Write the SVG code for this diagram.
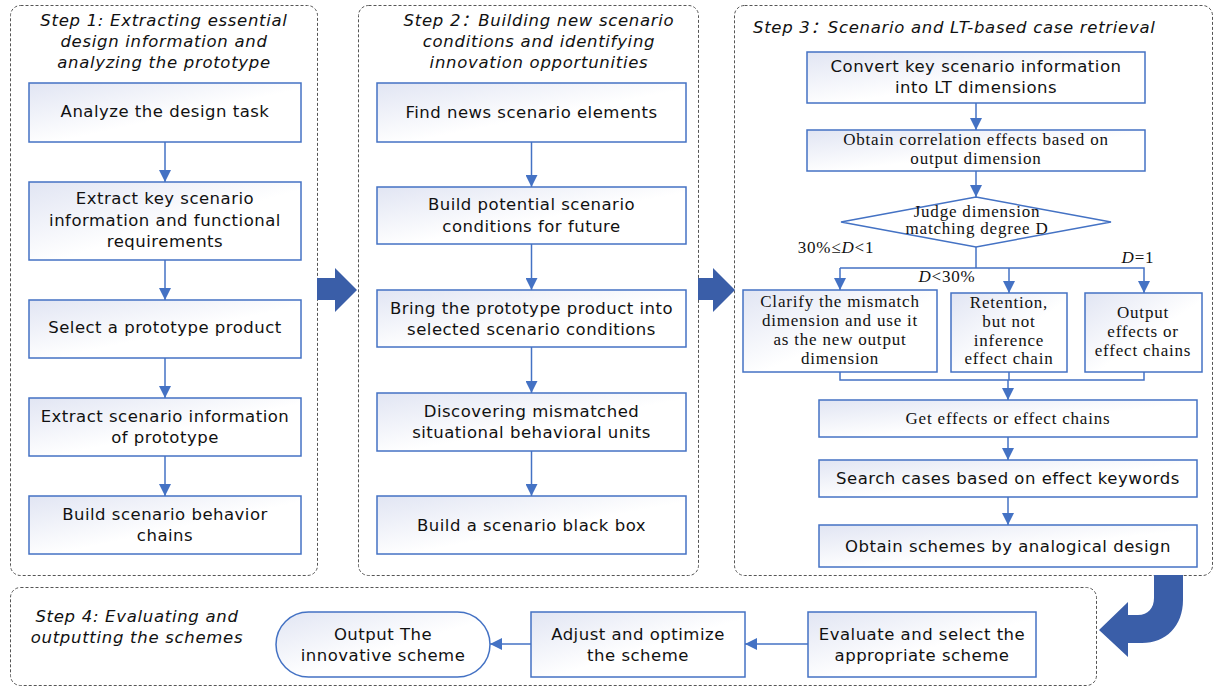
<svg xmlns="http://www.w3.org/2000/svg" width="1214" height="686" viewBox="0 0 1214 686">
<defs>
<linearGradient id="bg" x1="0" y1="0" x2="1" y2="1">
<stop offset="0" stop-color="#e1e5f3"/>
<stop offset="0.55" stop-color="#ffffff"/>
<stop offset="1" stop-color="#ffffff"/>
</linearGradient>
<marker id="ah" viewBox="0 0 12 12" markerWidth="12" markerHeight="12" refX="12" refY="6" orient="auto" markerUnits="userSpaceOnUse">
<path d="M0,0 L12,6 L0,12 z" fill="#4472c4"/>
</marker>
<style>
.panel{fill:#fff;stroke:#555;stroke-width:1;stroke-dasharray:3 2}
.box{fill:url(#bg);stroke:#4472c4;stroke-width:1.5}
.t{font-family:"DejaVu Sans","Verdana",sans-serif;font-size:16.5px;fill:#111;text-anchor:middle;letter-spacing:0.5px}
.s{font-family:"Liberation Serif","Times New Roman",serif;font-size:17px;fill:#111;text-anchor:middle;letter-spacing:0.8px}
.ti{font-family:"DejaVu Sans","Noto Sans CJK SC",sans-serif;font-size:16.5px;font-style:italic;fill:#111;text-anchor:middle;letter-spacing:0.7px}
.c{fill:none;stroke:#4472c4;stroke-width:1.5}
.big{fill:#3a5ea8}
</style>
</defs>

<g id="panels">
<rect id="step1" class="panel" x="10.5" y="5.5" width="307" height="570" rx="10"/>
<rect id="step2" class="panel" x="358.5" y="5.5" width="340" height="570" rx="10"/>
<rect id="step3" class="panel" x="734.5" y="5.5" width="478" height="570" rx="10"/>
<rect id="step4" class="panel" x="10.5" y="587.5" width="1086" height="98" rx="10"/>
</g>

<g id="titles">
<text class="ti" x="164" y="26">Step 1: Extracting essential</text>
<text class="ti" x="164" y="47">design information and</text>
<text class="ti" x="164" y="68">analyzing the prototype</text>
<text class="ti" x="539" y="26">Step 2：Building new scenario</text>
<text class="ti" x="539" y="47">conditions and identifying</text>
<text class="ti" x="539" y="68">innovation opportunities</text>
<text class="ti" x="753" y="33" style="text-anchor:start">Step 3：Scenario and LT-based case retrieval</text>
<text class="ti" x="137" y="622">Step 4: Evaluating and</text>
<text class="ti" x="137" y="643">outputting the schemes</text>
</g>

<g id="big-arrows">
<path class="big" d="M317,278 L335,278 L335,268 L357,290 L335,312 L335,300 L317,300 z"/>
<path class="big" d="M698,278 L713,278 L713,268 L735,290 L713,312 L713,300 L698,300 z"/>
<path class="big" d="M1154,575 L1183,575 L1183,600 C1183,626 1166,643 1142,643 L1128,643 L1128,657 L1099,630 L1128,602 L1128,615 L1138,615 C1148,615 1154,608 1154,598 z"/>
</g>

<g id="connectors">
<line class="c" x1="165" y1="142" x2="165" y2="182" marker-end="url(#ah)"/>
<line class="c" x1="165" y1="260" x2="165" y2="300" marker-end="url(#ah)"/>
<line class="c" x1="165" y1="358" x2="165" y2="398" marker-end="url(#ah)"/>
<line class="c" x1="165" y1="456" x2="165" y2="496" marker-end="url(#ah)"/>

<line class="c" x1="531.5" y1="142" x2="531.5" y2="187" marker-end="url(#ah)"/>
<line class="c" x1="531.5" y1="244" x2="531.5" y2="290" marker-end="url(#ah)"/>
<line class="c" x1="531.5" y1="347" x2="531.5" y2="393" marker-end="url(#ah)"/>
<line class="c" x1="531.5" y1="451" x2="531.5" y2="496" marker-end="url(#ah)"/>

<line class="c" x1="976" y1="103" x2="976" y2="130" marker-end="url(#ah)"/>
<line class="c" x1="976" y1="171" x2="976" y2="197" marker-end="url(#ah)"/>
<polyline class="c" points="976,247 976,268"/>
<polyline class="c" points="840,268 1144,268 1144,293" marker-end="url(#ah)"/>
<line class="c" x1="840" y1="268" x2="840" y2="290" marker-end="url(#ah)"/>
<line class="c" x1="1009" y1="268" x2="1009" y2="293" marker-end="url(#ah)"/>
<polyline class="c" points="840,372 840,380 1144,380 1144,372"/>
<line class="c" x1="1009" y1="372" x2="1009" y2="380"/>
<line class="c" x1="1008" y1="380" x2="1008" y2="400" marker-end="url(#ah)"/>
<line class="c" x1="1008" y1="437" x2="1008" y2="460" marker-end="url(#ah)"/>
<line class="c" x1="1008" y1="497" x2="1008" y2="525" marker-end="url(#ah)"/>

<line class="c" x1="808" y1="644" x2="745" y2="644" marker-end="url(#ah)"/>
<line class="c" x1="531" y1="644" x2="490" y2="644" marker-end="url(#ah)"/>
</g>

<g id="n1-1"><rect class="box" x="29" y="83" width="272" height="59"/>
<text class="t" x="165" y="117">Analyze the design task</text></g>
<g id="n1-2"><rect class="box" x="29" y="182" width="272" height="78"/>
<text class="t" x="165" y="204">Extract key scenario</text>
<text class="t" x="165" y="226">information and functional</text>
<text class="t" x="165" y="247">requirements</text></g>
<g id="n1-3"><rect class="box" x="29" y="300" width="272" height="58"/>
<text class="t" x="165" y="333">Select a prototype product</text></g>
<g id="n1-4"><rect class="box" x="29" y="398" width="272" height="58"/>
<text class="t" x="165" y="422">Extract scenario information</text>
<text class="t" x="165" y="443">of prototype</text></g>
<g id="n1-5"><rect class="box" x="29" y="496" width="272" height="58"/>
<text class="t" x="165" y="520">Build scenario behavior</text>
<text class="t" x="165" y="541">chains</text></g>

<g id="n2-1"><rect class="box" x="377" y="83" width="309" height="59"/>
<text class="t" x="531.5" y="118">Find news scenario elements</text></g>
<g id="n2-2"><rect class="box" x="377" y="187" width="309" height="57"/>
<text class="t" x="531.5" y="210">Build potential scenario</text>
<text class="t" x="531.5" y="232">conditions for future</text></g>
<g id="n2-3"><rect class="box" x="377" y="290" width="309" height="57"/>
<text class="t" x="531.5" y="314">Bring the prototype product into</text>
<text class="t" x="531.5" y="335">selected scenario conditions</text></g>
<g id="n2-4"><rect class="box" x="377" y="393" width="309" height="58"/>
<text class="t" x="531.5" y="417">Discovering mismatched</text>
<text class="t" x="531.5" y="438">situational behavioral units</text></g>
<g id="n2-5"><rect class="box" x="377" y="496" width="309" height="58"/>
<text class="t" x="531.5" y="531">Build a scenario black box</text></g>

<g id="n3-1"><rect class="box" x="807" y="52" width="338" height="51"/>
<text class="t" x="976" y="72">Convert key scenario information</text>
<text class="t" x="976" y="93">into LT dimensions</text></g>
<g id="n3-2"><rect class="box" x="807" y="130" width="338" height="41"/>
<text class="s" x="976" y="145">Obtain correlation effects based on</text>
<text class="s" x="976" y="164">output dimension</text></g>
<g id="n3-d"><polygon points="976,197 1111,222 976,247 841,222" fill="#fff" stroke="#4472c4" stroke-width="1.5"/>
<text class="s" x="977" y="217">Judge dimension</text>
<text class="s" x="977" y="234">matching degree D</text></g>
<g id="n3-a"><rect class="box" x="743" y="290" width="194" height="82"/>
<text class="s" x="840" y="307">Clarify the mismatch</text>
<text class="s" x="840" y="326">dimension and use it</text>
<text class="s" x="840" y="345">as the new output</text>
<text class="s" x="840" y="364">dimension</text></g>
<g id="n3-b"><rect class="box" x="951" y="293" width="116" height="79"/>
<text class="s" x="1009" y="308">Retention,</text>
<text class="s" x="1009" y="327">but not</text>
<text class="s" x="1009" y="346">inference</text>
<text class="s" x="1009" y="364">effect chain</text></g>
<g id="n3-c"><rect class="box" x="1085" y="293" width="117" height="79"/>
<text class="s" x="1143" y="318">Output</text>
<text class="s" x="1143" y="337">effects or</text>
<text class="s" x="1143" y="356">effect chains</text></g>
<g id="labels">
<text class="s" x="836" y="253">30%≤<tspan font-style="italic">D</tspan>&lt;1</text>
<text class="s" x="947" y="282"><tspan font-style="italic">D</tspan>&lt;30%</text>
<text class="s" x="1138" y="263"><tspan font-style="italic">D</tspan>=1</text>
</g>
<g id="n3-3"><rect class="box" x="819" y="400" width="378" height="37"/>
<text class="s" x="1008" y="424">Get effects or effect chains</text></g>
<g id="n3-4"><rect class="box" x="819" y="460" width="378" height="37"/>
<text class="t" x="1008" y="484">Search cases based on effect keywords</text></g>
<g id="n3-5"><rect class="box" x="819" y="525" width="378" height="42"/>
<text class="t" x="1008" y="552">Obtain schemes by analogical design</text></g>

<g id="n4-1"><rect class="box" x="276" y="612" width="214" height="65" rx="32.5"/>
<text class="t" x="383" y="640">Output The</text>
<text class="t" x="383" y="661">innovative scheme</text></g>
<g id="n4-2"><rect class="box" x="531" y="612" width="214" height="65"/>
<text class="t" x="638" y="640">Adjust and optimize</text>
<text class="t" x="638" y="661">the scheme</text></g>
<g id="n4-3"><rect class="box" x="808" y="612" width="228" height="65"/>
<text class="t" x="922" y="640">Evaluate and select the</text>
<text class="t" x="922" y="661">appropriate scheme</text></g>
</svg>
